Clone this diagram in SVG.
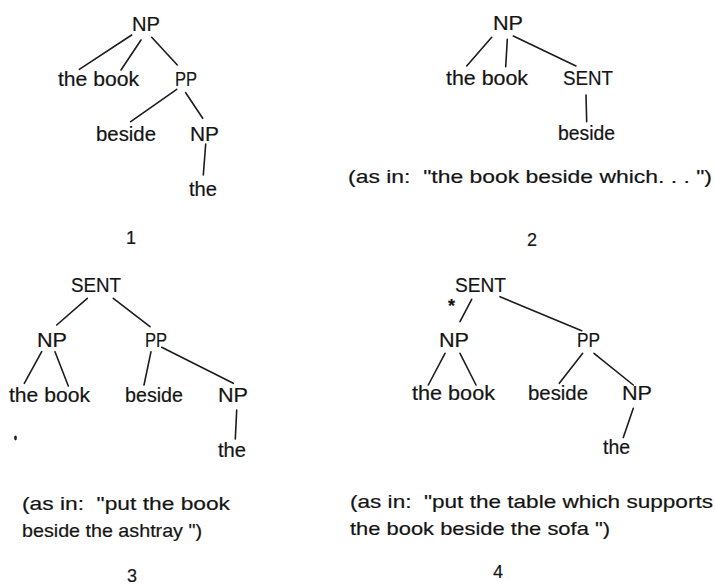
<svg xmlns="http://www.w3.org/2000/svg" width="715" height="585" viewBox="0 0 715 585">
  <style>
    text { font-family: "Liberation Sans", Arial, sans-serif; font-size: 21px; fill: #141414; stroke: #141414; stroke-width: 0.2; }
    .lc { font-size: 19.5px; }
    .cap { font-size: 19px; }
    .num { font-size: 18px; }
    .star { font-size: 18px; font-weight: bold; }
    #connectors line { stroke: #1c1c1c; stroke-width: 1.6; stroke-linecap: round; }
  </style>
  <rect width="715" height="585" fill="#ffffff"/>

  <!-- connectors of all four trees -->
  <g id="connectors">
    <!-- tree 1 -->
    <line x1="131.7" y1="35" x2="79.3" y2="69.3"/>
    <line x1="141" y1="40" x2="121" y2="70"/>
    <line x1="151.7" y1="37.3" x2="177.3" y2="65"/>
    <line x1="176.7" y1="89.3" x2="130.7" y2="121.7"/>
    <line x1="185.7" y1="92.7" x2="202.7" y2="118.3"/>
    <line x1="205.7" y1="144" x2="203.3" y2="175"/>
    <!-- tree 2 -->
    <line x1="491.7" y1="37.3" x2="466.7" y2="66"/>
    <line x1="507.3" y1="39.3" x2="505.7" y2="66.7"/>
    <line x1="513.3" y1="36" x2="576" y2="66"/>
    <line x1="586" y1="95" x2="586.7" y2="121.7"/>
    <!-- tree 3 -->
    <line x1="87.3" y1="298.3" x2="56.7" y2="325"/>
    <line x1="113.3" y1="298.3" x2="150" y2="326.7"/>
    <line x1="41.7" y1="351.7" x2="24.3" y2="383.3"/>
    <line x1="55" y1="351.7" x2="68.3" y2="386"/>
    <line x1="151" y1="351.7" x2="144" y2="385"/>
    <line x1="161.7" y1="347.3" x2="233.3" y2="383.3"/>
    <line x1="236.7" y1="410" x2="235.3" y2="439"/>
    <!-- tree 4 -->
    <line x1="471.7" y1="299.3" x2="460" y2="321.7"/>
    <line x1="500" y1="296.7" x2="581.7" y2="330.7"/>
    <line x1="445" y1="353.3" x2="428.3" y2="385"/>
    <line x1="460" y1="353.3" x2="476" y2="385"/>
    <line x1="582.7" y1="353.3" x2="559.3" y2="383.3"/>
    <line x1="594" y1="353.3" x2="633.3" y2="385"/>
    <line x1="633.3" y1="408.3" x2="623.3" y2="437.5"/>
  </g>

  <!-- tree 1 -->
  <g id="t1-np"><text x="132" y="31" textLength="28" lengthAdjust="spacingAndGlyphs">NP</text></g>
  <g id="t1-thebook"><text class="lc" x="58" y="86" textLength="81" lengthAdjust="spacingAndGlyphs">the book</text></g>
  <g id="t1-pp"><text x="175" y="86" textLength="22" lengthAdjust="spacingAndGlyphs">PP</text></g>
  <g id="t1-beside"><text class="lc" x="96" y="141" textLength="60" lengthAdjust="spacingAndGlyphs">beside</text></g>
  <g id="t1-np2"><text x="190" y="141" textLength="29" lengthAdjust="spacingAndGlyphs">NP</text></g>
  <g id="t1-the"><text class="lc" x="189" y="196" textLength="28" lengthAdjust="spacingAndGlyphs">the</text></g>
  <g id="label-1"><text class="num" x="126" y="244">1</text></g>

  <!-- tree 2 -->
  <g id="t2-np"><text x="493" y="30" textLength="30" lengthAdjust="spacingAndGlyphs">NP</text></g>
  <g id="t2-thebook"><text class="lc" x="446" y="85" textLength="82" lengthAdjust="spacingAndGlyphs">the book</text></g>
  <g id="t2-sent"><text x="563" y="85" textLength="50" lengthAdjust="spacingAndGlyphs">SENT</text></g>
  <g id="t2-beside"><text class="lc" x="558" y="140" textLength="57" lengthAdjust="spacingAndGlyphs">beside</text></g>
  <g id="caption-2"><text class="cap" x="348" y="183" textLength="364" lengthAdjust="spacingAndGlyphs" xml:space="preserve">(as in:  "the book beside which. . . ")</text></g>
  <g id="label-2"><text class="num" x="527" y="246">2</text></g>

  <!-- tree 3 -->
  <g id="t3-sent"><text x="71" y="292" textLength="50" lengthAdjust="spacingAndGlyphs">SENT</text></g>
  <g id="t3-np"><text x="37" y="347" textLength="30" lengthAdjust="spacingAndGlyphs">NP</text></g>
  <g id="t3-pp"><text x="145" y="347" textLength="22" lengthAdjust="spacingAndGlyphs">PP</text></g>
  <g id="t3-thebook"><text class="lc" x="9" y="402" textLength="81" lengthAdjust="spacingAndGlyphs">the book</text></g>
  <g id="t3-beside"><text class="lc" x="125" y="402" textLength="58" lengthAdjust="spacingAndGlyphs">beside</text></g>
  <g id="t3-np2"><text x="218" y="402" textLength="30" lengthAdjust="spacingAndGlyphs">NP</text></g>
  <g id="t3-the"><text class="lc" x="218" y="457" textLength="28" lengthAdjust="spacingAndGlyphs">the</text></g>
  <ellipse cx="15.5" cy="438" rx="1.4" ry="2.4" fill="#222"/>
  <g id="caption-3">
    <text class="cap" x="22" y="510" textLength="208" lengthAdjust="spacingAndGlyphs" xml:space="preserve">(as in:  "put the book</text>
    <text class="cap" x="22" y="537" textLength="180" lengthAdjust="spacingAndGlyphs" xml:space="preserve">beside the ashtray ")</text>
  </g>
  <g id="label-3"><text class="num" x="127" y="582">3</text></g>

  <!-- tree 4 -->
  <g id="t4-sent"><text x="455" y="292" textLength="51" lengthAdjust="spacingAndGlyphs">SENT</text></g>
  <g id="t4-star"><text class="star" x="448" y="312">*</text></g>
  <g id="t4-np"><text x="439" y="347" textLength="30" lengthAdjust="spacingAndGlyphs">NP</text></g>
  <g id="t4-pp"><text x="577" y="347" textLength="23" lengthAdjust="spacingAndGlyphs">PP</text></g>
  <g id="t4-thebook"><text class="lc" x="412" y="400" textLength="83" lengthAdjust="spacingAndGlyphs">the book</text></g>
  <g id="t4-beside"><text class="lc" x="528" y="400" textLength="60" lengthAdjust="spacingAndGlyphs">beside</text></g>
  <g id="t4-np2"><text x="622" y="400" textLength="30" lengthAdjust="spacingAndGlyphs">NP</text></g>
  <g id="t4-the"><text class="lc" x="603" y="454" textLength="27" lengthAdjust="spacingAndGlyphs">the</text></g>
  <g id="caption-4">
    <text class="cap" x="350" y="508" textLength="363" lengthAdjust="spacingAndGlyphs" xml:space="preserve">(as in:  "put the table which supports</text>
    <text class="cap" x="350" y="535" textLength="260" lengthAdjust="spacingAndGlyphs" xml:space="preserve">the book beside the sofa ")</text>
  </g>
  <g id="label-4"><text class="num" x="493" y="578">4</text></g>
</svg>
